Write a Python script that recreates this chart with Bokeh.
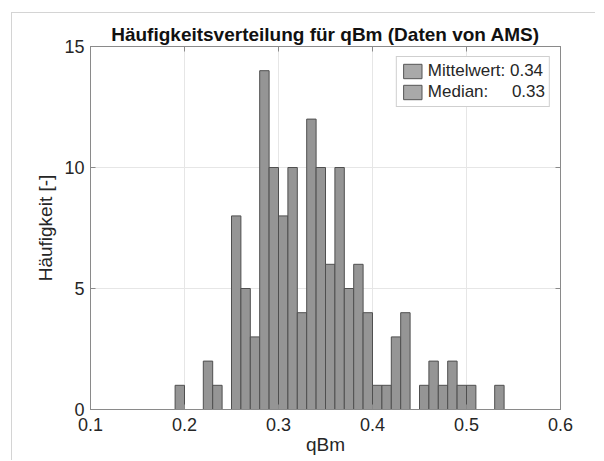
from bokeh.plotting import figure
from bokeh.models import (FixedTicker, LinearAxis, Legend, LegendItem,
                          ColumnDataSource)
from bokeh.embed import file_html
from bokeh.resources import INLINE

# ---- data ----
bin_left = [0.19, 0.20, 0.21, 0.22, 0.23, 0.24, 0.25, 0.26, 0.27, 0.28,
            0.29, 0.30, 0.31, 0.32, 0.33, 0.34, 0.35, 0.36, 0.37, 0.38,
            0.39, 0.40, 0.41, 0.42, 0.43, 0.44, 0.45, 0.46, 0.47, 0.48,
            0.49, 0.50, 0.51, 0.52, 0.53]
bin_width = 0.01
counts = [1, 0, 0, 2, 1, 0, 8, 5, 3, 14,
          10, 8, 10, 4, 12, 10, 6, 10, 5, 6,
          4, 1, 1, 3, 4, 0, 1, 2, 1, 2,
          1, 1, 0, 0, 1]
mean_value = 0.34
median_value = 0.33
x_ticks = [0.1, 0.2, 0.3, 0.4, 0.5, 0.6]
y_ticks = [0, 5, 10, 15]

FONT = "Liberation Sans"
TXT = "#262626"
AX = "#8a8a8a"

p = figure(width=584, height=448, x_range=(0.1, 0.6), y_range=(0, 15),
           output_backend="svg", toolbar_location=None,
           min_border_left=78, min_border_right=36,
           min_border_top=33, min_border_bottom=52)
p.styles = {"margin-left": "11px", "margin-top": "12px",
            "border-left": "1px solid #d4d4d4", "border-top": "1px solid #d4d4d4"}

p.background_fill_color = "white"
p.border_fill_color = "white"
p.outline_line_color = AX
p.outline_line_width = 1

# histogram bars
lefts = [l for l, c in zip(bin_left, counts) if c > 0]
tops = [c for c in counts if c > 0]
src = ColumnDataSource(dict(left=lefts,
                            right=[l + bin_width for l in lefts],
                            top=tops,
                            bottom=[0] * len(tops)))
p.quad(left="left", right="right", top="top", bottom="bottom", source=src,
       fill_color="#959595", line_color="#4f4f4f", line_width=1)

# title
p.title.text = "Häufigkeitsverteilung für qBm (Daten von AMS)"
p.title.text_font = FONT
p.title.text_font_size = "19px"
p.title.text_font_style = "bold"
p.title.text_color = "#111111"
p.title.align = "center"
p.title.standoff = 3

# axes
for ax in (p.xaxis[0], p.yaxis[0]):
    ax.major_label_text_font = FONT
    ax.major_label_text_font_size = "18px"
    ax.major_label_text_color = TXT
    ax.axis_line_color = AX
    ax.major_tick_line_color = AX
    ax.major_tick_in = 5
    ax.major_tick_out = 0
    ax.minor_tick_line_color = None
    ax.axis_label_text_font = FONT
    ax.axis_label_text_font_size = "19px"
    ax.axis_label_text_font_style = "normal"
    ax.axis_label_text_color = TXT
p.xaxis[0].ticker = FixedTicker(ticks=x_ticks)
p.yaxis[0].ticker = FixedTicker(ticks=y_ticks)
p.xaxis[0].major_label_standoff = 8
p.yaxis[0].major_label_standoff = 6
p.xaxis[0].axis_label = "qBm"
p.xaxis[0].axis_label_standoff = 0
p.yaxis[0].axis_label = "Häufigkeit [-]"
p.yaxis[0].axis_label_standoff = 5

# box ticks on top and right
for loc, tk in (("right", y_ticks), ("above", x_ticks)):
    a = LinearAxis(ticker=FixedTicker(ticks=tk))
    a.major_label_text_font_size = "0px"
    a.major_label_text_alpha = 0
    a.major_label_standoff = 0
    a.axis_line_color = AX
    a.major_tick_line_color = AX
    a.major_tick_in = 5
    a.major_tick_out = 0
    a.minor_tick_line_color = None
    p.add_layout(a, loc)

# grid
p.xgrid.ticker = FixedTicker(ticks=x_ticks)
p.ygrid.ticker = FixedTicker(ticks=y_ticks)
p.grid.grid_line_color = "#e6e6e6"
p.grid.grid_line_width = 1

# legend (swatch renderers sit outside the visible x range)
r1 = p.quad(left=[0.0], right=[0.0], top=[0.0], bottom=[0.0],
            fill_color="#a9a9a9", line_color="#555555")
r2 = p.quad(left=[0.0], right=[0.0], top=[0.0], bottom=[0.0],
            fill_color="#a9a9a9", line_color="#555555")
legend = Legend(items=[
    LegendItem(label=f"Mittelwert: {mean_value:.2f}", renderers=[r1]),
    LegendItem(label="Median:" + "\u00a0" * 5 + f"{median_value:.2f}", renderers=[r2]),
], location="top_right")
legend.margin = 10
legend.padding = 4
legend.spacing = 1
legend.glyph_width = 23
legend.glyph_height = 18
legend.label_height = 20
legend.label_standoff = 4
legend.label_text_font = FONT
legend.label_text_font_size = "17px"
legend.label_text_color = TXT
legend.border_line_color = "#a0a0a0"
legend.border_line_width = 1
legend.background_fill_color = "white"
legend.background_fill_alpha = 1
p.add_layout(legend, "center")

open("out.html", "w").write(file_html(p, INLINE))
